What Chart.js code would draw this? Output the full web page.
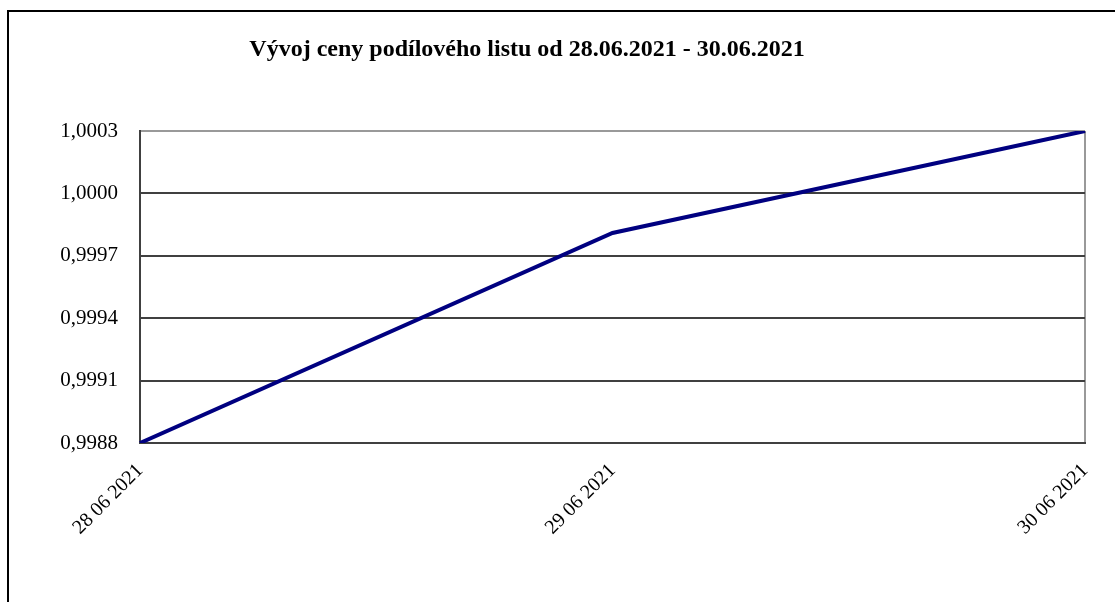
<!DOCTYPE html>
<html>
<head>
<meta charset="utf-8">
<script src="https://cdn.jsdelivr.net/npm/chart.js@4"></script>
<style>
  body { margin: 0; background: #fff; }
  #frame { position: absolute; left: 7px; top: 10px; width: 1120px; height: 600px; border: 2px solid #000; }
  #wrap { position: absolute; left: 0; top: 0; width: 1115px; height: 602px; }
</style>
</head>
<body>
<div id="frame"></div>
<div id="wrap"><canvas id="priceChart" width="1115" height="602"></canvas></div>
<script>
// Vývoj ceny podílového listu
const dates = ['28 06 2021', '29 06 2021', '30 06 2021'];
const prices = [0.9988, 0.99981, 1.0003];
const yTicks = [0.9988, 0.9991, 0.9994, 0.9997, 1.0000, 1.0003];
const titleText = 'Vývoj ceny podílového listu od 28.06.2021 - 30.06.2021';

const serif = '"Liberation Serif", "Times New Roman", serif';

const titlePlugin = {
    id: 'titleText',
    afterDraw(chart) {
        const ctx = chart.ctx;
        ctx.save();
        ctx.font = 'bold 24px ' + serif;
        ctx.fillStyle = '#000';
        ctx.textAlign = 'center';
        ctx.textBaseline = 'middle';
        ctx.fillText(titleText, 527, 50);
        ctx.restore();
    }
};

new Chart(document.getElementById('priceChart').getContext('2d'), {
    type: 'line',
    data: {
        labels: dates,
        datasets: [{
            label: 'Cena',
            data: prices,
            borderColor: '#000080',
            borderWidth: 4,
            tension: 0,
            pointRadius: 0,
            fill: false
        }]
    },
    options: {
        responsive: false,
        animation: false,
        layout: { padding: { top: 131, right: 30, left: 0, bottom: 0 } },
        plugins: { legend: { display: false }, tooltip: { enabled: false } },
        scales: {
            x: {
                offset: false,
                afterFit(scale) {
                    scale.height = 159;
                    scale.paddingRight = 0;
                },
                grid: {
                    drawTicks: false,
                    lineWidth: 2,
                    color: ctx => ctx.index === dates.length - 1 ? '#999' : 'rgba(0,0,0,0)'
                },
                border: { color: '#404040', width: 2 },
                ticks: {
                    minRotation: 45,
                    maxRotation: 45,
                    padding: 16,
                    color: '#000',
                    font: { family: serif, size: 20 }
                }
            },
            y: {
                min: 0.9988,
                max: 1.0003,
                afterFit(scale) { scale.width = 140; },
                afterBuildTicks(scale) { scale.ticks = yTicks.map(v => ({ value: v })); },
                grid: {
                    drawTicks: false,
                    lineWidth: 2,
                    color: ctx => ctx.tick && ctx.tick.value === 1.0003 ? '#999' : '#404040'
                },
                border: { color: '#404040', width: 2 },
                ticks: {
                    padding: 22,
                    color: '#000',
                    font: { family: serif, size: 21 },
                    callback: v => v.toFixed(4).replace('.', ',')
                }
            }
        }
    },
    plugins: [titlePlugin]
});
</script>
</body>
</html>
